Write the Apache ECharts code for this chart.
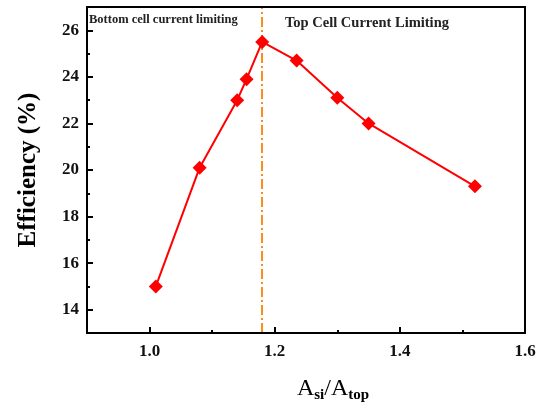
<!DOCTYPE html>
<html>
<head>
<meta charset="utf-8">
<script src="https://cdn.jsdelivr.net/npm/echarts@6/dist/echarts.min.js"></script>
<style>
  html, body { margin: 0; padding: 0; background: #fff; }
  #chart { width: 544px; height: 408px; }
</style>
</head>
<body>
<div id="chart"></div>
<script>
// 面积比 vs 效率
var ratio = [1.01, 1.08, 1.14, 1.155, 1.18, 1.235, 1.30, 1.35, 1.52];
var efficiency = [15.0, 20.1, 23.0, 23.9, 25.5, 24.7, 23.1, 22.0, 19.3];
var limitLine = 1.18;
var xMajor = [1.0, 1.2, 1.4, 1.6];
var xMinor = [1.1, 1.3, 1.5];
var yMajor = [14, 16, 18, 20, 22, 24, 26];
var yMinor = [15, 17, 19, 21, 23, 25];
var regionLabels = ['Bottom cell current limiting', 'Top Cell Current Limiting'];

var chart = echarts.init(document.getElementById('chart'));
var font = '"Liberation Serif", "Times New Roman", serif';
var points = ratio.map(function (x, i) { return [x, efficiency[i]]; });
var black = '#000';

function minorAxis (min, max, ticks, pos) {
  return {
    type: 'value', min: min, max: max, position: pos,
    axisLine: { show: false },
    axisTick: { inside: true, length: 3, customValues: ticks, lineStyle: { width: 2, color: black } },
    axisLabel: { show: false },
    splitLine: { show: false }
  };
}

var option = {
  animation: false,
  grid: {
    left: 87,
    right: 19,
    top: 7,
    bottom: 75
  },
  xAxis: [{
    type: 'value',
    min: 0.9,
    max: 1.6,
    position: 'bottom',
    name: '{b|A}{s|si}{b|/A}{s|top}',
    nameLocation: 'middle',
    nameGap: 42,
    nameTextStyle: {
      padding: [0, 0, 0, 54],
      rich: {
        b: { fontFamily: font, fontSize: 24, color: black },
        s: { fontFamily: font, fontSize: 15, fontWeight: 'bold', color: black, padding: [13, 0, 0, 0] }
      }
    },
    axisLine: { onZero: false, lineStyle: { color: black, width: 2 } },
    axisTick: { inside: true, length: 6, customValues: xMajor, lineStyle: { width: 2, color: black } },
    axisLabel: {
      fontFamily: font, fontSize: 17, fontWeight: 'bold', color: '#111', margin: 10,
      customValues: xMajor,
      formatter: function (v) { return v.toFixed(1); }
    },
    splitLine: { show: false }
  }, minorAxis(0.9, 1.6, xMinor, 'bottom')],
  yAxis: [{
    type: 'value',
    min: 13,
    max: 27,
    position: 'left',
    name: 'Efficiency (%)',
    nameLocation: 'middle',
    nameGap: 46,
    nameTextStyle: { fontFamily: font, fontSize: 25, fontWeight: 'bold', color: black },
    axisLine: { onZero: false, lineStyle: { color: black, width: 2 } },
    axisTick: { inside: true, length: 6, customValues: yMajor, lineStyle: { width: 2, color: black } },
    axisLabel: {
      fontFamily: font, fontSize: 17, fontWeight: 'bold', color: '#111', margin: 8,
      customValues: yMajor
    },
    splitLine: { show: false }
  }, minorAxis(13, 27, yMinor, 'left')],
  graphic: [
    {
      type: 'rect',
      shape: { x: 87, y: 7, width: 438, height: 326 },
      style: { fill: 'none', stroke: black, lineWidth: 2 },
      silent: true, z: 10
    },
    {
      type: 'text', left: 89, top: 13,
      style: { text: regionLabels[0], font: 'bold 12.5px ' + font, fill: '#222' }
    },
    {
      type: 'text', left: 285, top: 16,
      style: { text: regionLabels[1], font: 'bold 14.5px ' + font, fill: '#222' }
    }
  ],
  series: [{
    type: 'line',
    data: points,
    symbol: 'diamond',
    symbolSize: 14,
    itemStyle: { color: '#ff0000' },
    lineStyle: { color: '#ff0000', width: 2 },
    z: 5,
    markLine: {
      silent: true,
      symbol: 'none',
      label: { show: false },
      lineStyle: { color: '#ff8c1a', width: 2, type: [10, 3, 2, 3] },
      data: [{ xAxis: limitLine }]
    }
  }]
};
chart.setOption(option, true);
</script>
</body>
</html>
